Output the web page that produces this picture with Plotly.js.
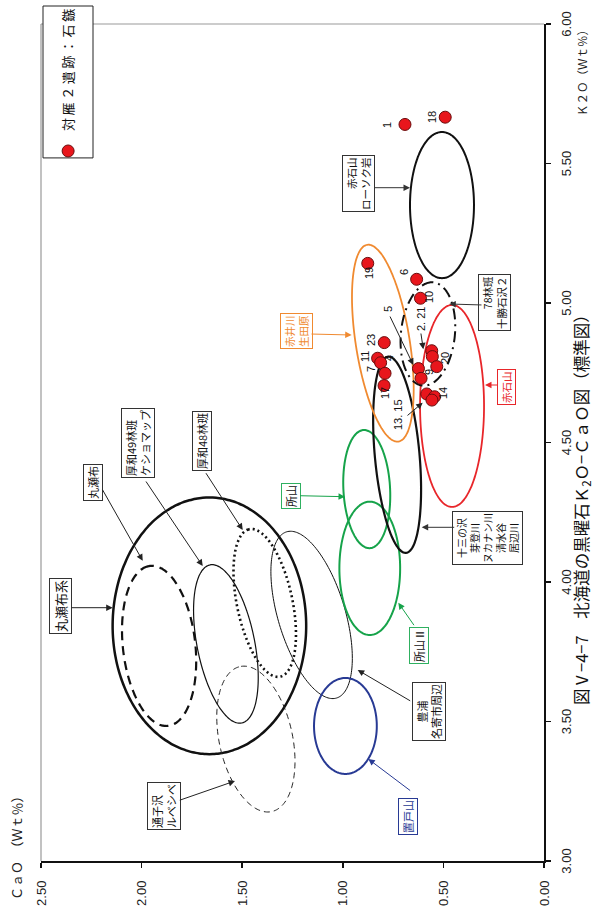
<!DOCTYPE html>
<html><head><meta charset="utf-8">
<script src="https://cdn.plot.ly/plotly-3.0.1.min.js"></script>
<style>
html,body{margin:0;padding:0;background:#fff;overflow:hidden;width:595px;height:913px;}
#wrap{position:absolute;left:0;top:0;width:913px;height:595px;transform-origin:0 0;}
</style></head><body>
<div id="wrap"><div id="chart" style="width:913px;height:595px;"></div></div>
<script>
// ---------- data: 対雁２遺跡 石鏃 ----------
const sampleNo = ['1','18','19','6','10','23','11','4','7','17','2','21','20','5','9','13','14','15'];
const sampleK2O = [5.640,5.666,5.142,5.085,5.017,4.858,4.802,4.786,4.748,4.704,4.829,4.808,4.772,4.765,4.730,4.674,4.664,4.652];
const sampleCaO = [0.691,0.491,0.876,0.633,0.614,0.794,0.827,0.812,0.790,0.795,0.558,0.555,0.533,0.624,0.611,0.583,0.544,0.557];

// ---------- source regions (ellipses) ----------
const srcName  = ['丸瀬布系','丸瀬布','厚和49林班','厚和48林班','豊浦・名寄市周辺','通子沢・ルベシベ','置戸山','所山','所山Ⅱ','十三の沢ほか','赤井川・生田原','赤石山','78林班・十勝石沢2','赤石山ローソク岩'];
const srcK2O   = [3.843,3.771,3.778,3.925,3.882,3.437,3.484,4.333,4.049,4.456,4.856,4.631,4.889,5.351];
const srcCaO   = [1.663,1.913,1.581,1.388,1.155,1.432,0.987,0.881,0.866,0.730,0.801,0.457,0.577,0.507];
const srcHalfK = [0.460,0.2885,0.289,0.270,0.311,0.266,0.172,0.212,0.239,0.353,0.357,0.362,0.186,0.262];
const srcHalfC = [0.481,0.180,0.143,0.138,0.167,0.182,0.156,0.116,0.151,0.111,0.134,0.159,0.134,0.159];
const srcTilt  = [0,6.4,11.3,11.8,16.7,12.3,0,3,0,5.2,9,0,-6,0];
const srcColor = ['#111','#111','#111','#111','#111','#222','#283a94','#16a34a','#16a34a','#111','#f08a30','#e8262a','#111','#111'];
const srcWidth = [2.5,2.2,1.2,2.6,1,1,2,2,2,2.2,1.8,1.8,2,2];
const srcDash  = ['solid','9px,6px','solid','2px,3px','solid','6px,4px','solid','solid','solid','solid','solid','solid','11px,5px,2px,5px','solid'];

// ---------- axes ----------
const K2O_RANGE = [3, 6];
const CAO_RANGE = [0, 2.5];
const k2oTicks = [3,3.5,4,4.5,5,5.5,6];
const k2oTickText = ['3.00','3.50','4.00','4.50','5.00','5.50','6.00'];
const caoTicks = [0,0.5,1,1.5,2,2.5];
const caoTickText = ['0.00','0.50','1.00','1.50','2.00','2.50'];

// ---------- layout geometry ----------
const W = 913, H = 595;
const M = {l:52, r:24, t:41, b:51, pad:0, autoexpand:false};
const pxK = (W - M.l - M.r) / (K2O_RANGE[1] - K2O_RANGE[0]);
const pxC = (H - M.t - M.b) / (CAO_RANGE[1] - CAO_RANGE[0]);
// position on the upright page (x right, y down) -> data coords of the rotated chart
function pos(sx, sy){ return [K2O_RANGE[0] + (W - sy - M.l)/pxK, CAO_RANGE[0] + (H - M.b - sx)/pxC]; }

const traces = [];
for (let i = 0; i < srcName.length; i++) {
  const xs = [], ys = [];
  const A = srcHalfK[i]*pxK, B = srcHalfC[i]*pxC, f = srcTilt[i]*Math.PI/180;
  for (let d = 0; d <= 360; d += 2) {
    const t = d*Math.PI/180;
    const u = A*Math.cos(t)*Math.cos(f) - B*Math.sin(t)*Math.sin(f);
    const v = A*Math.cos(t)*Math.sin(f) + B*Math.sin(t)*Math.cos(f);
    xs.push(srcK2O[i] + u/pxK); ys.push(srcCaO[i] + v/pxC);
  }
  traces.push({x:xs, y:ys, mode:'lines', name:srcName[i], showlegend:false, hoverinfo:'name',
    line:{color:srcColor[i], width:srcWidth[i], dash:srcDash[i], shape:'spline'}});
}
traces.push({x:sampleK2O, y:sampleCaO, text:sampleNo, mode:'markers',
  name:'対\u2009雁\u2009２\u2009遺\u2009跡\u2009：\u2009石\u2009鏃',
  marker:{size:12, color:'#e8161c', line:{color:'#6a0d0d', width:1}}, showlegend:true});

const CJK = 'Noto Sans CJK JP, Noto Sans, sans-serif';
const ann = [];
// boxed labels [sx, sy, text, fontsize, textcolor, bordercolor, align]
const boxes = [
  [60,606,'丸瀬布系',13,'#111','#333','center'],
  [92.5,482.5,'丸瀬布',11,'#111','#333','center'],
  [138,443.5,'厚和49林班<br>ケショマップ',11,'#111','#333','left'],
  [202,441.5,'厚和48林班',11,'#111','#333','center'],
  [290.7,496.3,'所山',11,'#111','#2fb060','center'],
  [419,646,'所山Ⅱ',11,'#111','#2fb060','center'],
  [428.5,712,'豊浦<br>名寄市周辺',11,'#111','#333','center'],
  [408,816.5,'置戸山',11,'#283a94','#283a94','center'],
  [164,806,'通子沢<br>ルベシベ',11,'#111','#333','left'],
  [487.3,538,'十三の沢<br>芽登川<br>ヌカナン川<br>清水谷<br>居辺川',10,'#111','#333','center'],
  [494.8,302.2,'78林班<br>十勝石沢２',10.5,'#111','#333','right'],
  [506.5,387,'赤石山',10.5,'#e8262a','#e8262a','center'],
  [296.5,331.5,'赤井川<br>生田原',10.5,'#f08a30','#f08a30','center'],
  [358.8,183.3,'赤石山<br>ローソク岩',10.5,'#111','#333','right']
];
boxes.forEach(b => {
  const p = pos(b[0], b[1]);
  ann.push({x:p[0], y:p[1], xref:'x', yref:'y', text:b[2], showarrow:false, align:b[6],
    font:{family:CJK, size:b[3], color:b[4]}, bgcolor:'#fff', bordercolor:b[5], borderwidth:1, borderpad:1});
});
// arrows [tail sx, tail sy, tip sx, tip sy, color]
const arrows = [
  [70,607.7,112.7,607.7,'#222'],
  [101.7,488.3,142.7,560.7,'#222'],
  [145,480,202.7,566,'#222'],
  [205,471.7,242.7,530,'#222'],
  [298.7,495.7,345,496.7,'#16a34a'],
  [415,626.7,398.3,602.7,'#16a34a'],
  [411.7,701.7,357.7,670,'#222'],
  [411.7,791.7,368.3,759,'#283a94'],
  [178.3,800.7,235,781,'#222'],
  [455.7,527.3,421.7,527.3,'#333'],
  [483,305,449.3,304,'#333'],
  [499,385,485,385,'#e8262a'],
  [310,334,351.7,335,'#f08a30'],
  [372.7,187.7,410,187.7,'#333'],
  [389.3,315,413.3,365,'#222'],
  [420.7,332,423.3,349.3,'#222'],
  [406,416.7,422.7,402.7,'#222']
];
arrows.forEach(a => {
  const tail = pos(a[0], a[1]), tip = pos(a[2], a[3]);
  ann.push({x:tip[0], y:tip[1], xref:'x', yref:'y', ax:tail[0], ay:tail[1], axref:'x', ayref:'y',
    text:'', showarrow:true, arrowhead:2, arrowsize:1.3, arrowwidth:1, arrowcolor:a[4], standoff:0, startstandoff:0});
});
// sample number labels [sx, sy, text]
const numLabels = [
  [387.3,125,'1'],[431.7,117.3,'18'],[368.5,273,'19'],[404,271.7,'6'],[429.3,297,'10'],
  [388.3,309,'5'],[420.5,319,'2. 21'],[370.7,340,'23'],[365,357,'11'],[389.3,358.3,'4'],
  [370.7,369.3,'7'],[385,392.7,'17'],[445,358.3,'20'],[428.5,372,'9'],[443.3,393.3,'14'],[398.3,415,'13. 15']
];
numLabels.forEach(n => {
  const p = pos(n[0], n[1]);
  ann.push({x:p[0], y:p[1], xref:'x', yref:'y', text:n[2], showarrow:false,
    font:{family:'Liberation Sans, Arial, sans-serif', size:11, color:'#111'}});
});
// caption and axis names
ann.push({xref:'paper', yref:'paper', x:0.4253, y:-0.0755, yanchor:'middle', xanchor:'center', showarrow:false,
  text:'図Ⅴ−4−7　北海道の黒曜石Ｋ<sub>2</sub>Ｏ−ＣａＯ図（標準図）', font:{family:CJK, size:16.5, color:'#111'}});
ann.push({xref:'paper', yref:'paper', x:1.0024, y:-0.0755, yanchor:'middle', xanchor:'right', showarrow:false,
  text:'Ｋ２Ｏ（Ｗｔ％）', font:{family:CJK, size:11.5, color:'#222'}});
ann.push({xref:'paper', yref:'paper', x:-0.049, y:1.0487, yanchor:'middle', xanchor:'left', showarrow:false,
  text:'ＣａＯ　（Ｗｔ％）', font:{family:CJK, size:13, color:'#222'}});

const axisCommon = {showgrid:false, zeroline:false, showline:true, linecolor:'#111', linewidth:2,
  ticks:'outside', ticklen:5, tickwidth:1.5, tickcolor:'#111',
  tickfont:{family:'Liberation Sans, Arial, sans-serif', size:13, color:'#222'}, fixedrange:true, automargin:false};

const layout = {
  width:W, height:H, margin:M, paper_bgcolor:'#fff', plot_bgcolor:'#fff',
  font:{family:CJK},
  xaxis:Object.assign({}, axisCommon, {range:K2O_RANGE, tickvals:k2oTicks, ticktext:k2oTickText, ticklabelstandoff:4}),
  yaxis:Object.assign({}, axisCommon, {range:CAO_RANGE, tickvals:caoTicks, ticktext:caoTickText, ticklabelstandoff:10}),
  showlegend:true,
  legend:{x:0.8244, y:0.946, xanchor:'left', yanchor:'middle', bgcolor:'rgba(0,0,0,0)', borderwidth:0,
    font:{family:CJK, size:13, color:'#111'}, itemwidth:30},
  shapes:[
    {type:'line', xref:'paper', yref:'paper', x0:0, x1:1, y0:1, y1:1, line:{color:'#999', width:1.2}, layer:'below'},
    {type:'line', xref:'paper', yref:'paper', x0:1, x1:1, y0:0, y1:1, line:{color:'#999', width:1.2}, layer:'below'},
    {type:'rect', xref:'paper', yref:'paper', x0:0.840, x1:1.0215, y0:0.8966, y1:0.996, fillcolor:'#fff', line:{color:'#222', width:1}, layer:'above'}
  ],
  annotations:ann
};

Plotly.newPlot('chart', traces, layout, {staticPlot:true, displayModeBar:false}).then(() => {
  document.getElementById('wrap').style.transform = 'translate(0px, 913px) rotate(-90deg)';
});
</script>
</body></html>
